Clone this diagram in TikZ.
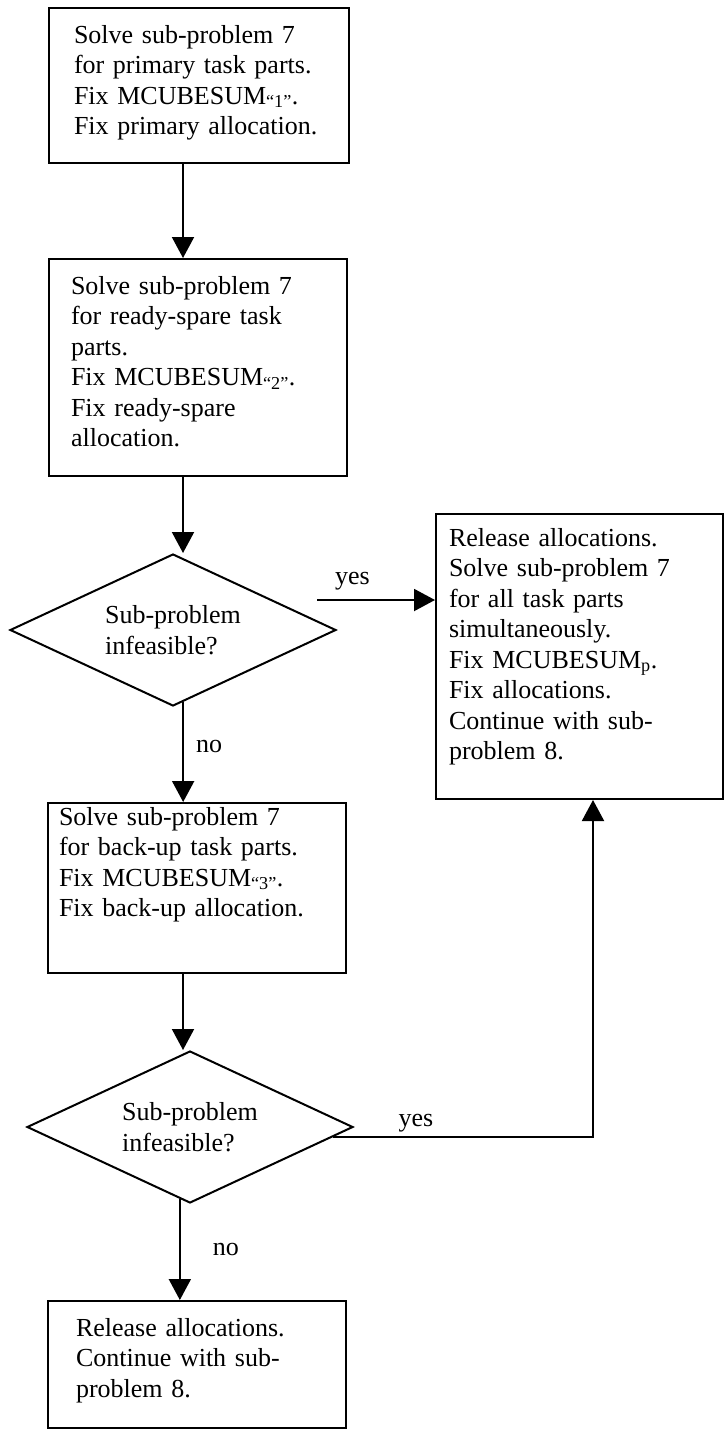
\documentclass[tikz,border=0pt]{standalone}
\usepackage{fontspec}
\setmainfont{Liberation Serif}
\usetikzlibrary{shapes.geometric,arrows.meta}
\newcommand\boxfont{\fontsize{26}{30.5}\selectfont}

\begin{document}
\begin{tikzpicture}[x=1pt,y=-1pt,
  stepbox/.style={draw, line width=2pt, anchor=north west, align=left, inner ysep=0pt, font=\boxfont},
  test/.style={diamond, draw, line width=2pt, aspect=2.14, inner sep=0pt, align=left, font=\boxfont, minimum width=326pt, minimum height=152pt},
  arr/.style={line width=2pt, -{Triangle[length=21pt,width=22pt]}},
  lbl/.style={font=\boxfont, inner sep=2pt}]

\useasboundingbox (0,0) rectangle (724,1430);

\coordinate (spine) at (183,0);
\coordinate (ret) at (593,0);
\coordinate (yes1) at (317,600);

\node[stepbox, inner xsep=25pt, text width=250pt, text height=35pt, text depth=120pt] (prim) at (48,7)
  {Solve sub-problem 7\\for primary task parts.\\Fix MCUBESUM\textsubscript{“1”}.\\Fix primary allocation.};
\node[stepbox, inner xsep=22pt, text width=254pt, text height=35pt, text depth=182pt] (spare) at (48,258)
  {Solve sub-problem 7\\for ready-spare task\\parts.\\Fix MCUBESUM\textsubscript{“2”}.\\Fix ready-spare\\allocation.};
\node[test] (inf1) at (173,630) {Sub-problem\\infeasible?};
\node[stepbox, inner xsep=13pt, text width=261pt, text height=32pt, text depth=253pt] (all) at (435,513)
  {Release allocations.\\Solve sub-problem 7\\for all task parts\\simultaneously.\\Fix MCUBESUM\textsubscript{p}.\\Fix allocations.\\Continue with sub-\\problem 8.};
\node[stepbox, inner xsep=11pt, text width=276pt, text height=22pt, text depth=148pt] (back) at (47,802)
  {Solve sub-problem 7\\for back-up task parts.\\Fix MCUBESUM\textsubscript{“3”}.\\Fix back-up allocation.};
\node[test] (inf2) at (190,1127) {Sub-problem\\infeasible?};
\node[stepbox, inner xsep=28pt, text width=242pt, text height=35pt, text depth=92pt] (fin) at (47,1300)
  {Release allocations.\\Continue with sub-\\problem 8.};

\draw[arr] (prim.south -| spine) -- (spare.north -| spine);
\draw[arr] (spare.south -| spine) -- (inf1.north -| spine);
\draw[arr] (yes1) -- (yes1 -| all.west) node[lbl, pos=.3, above=7pt] (y1) {yes};
\draw[arr] (inf1.-82) -- (back.north -| inf1.-82) node[lbl, pos=.44, right=10pt] (n1) {no};
\draw[arr] (back.south -| spine) -- (inf2.north -| spine);
\draw[arr] (inf2.-4) -| (all.south -| ret) node[lbl, pos=.16, above=2pt] (y2) {yes};
\draw[arr] (inf2.-98) -- (fin.north -| inf2.-98) node[lbl, pos=.5, right=30pt] (n2) {no};

\end{tikzpicture}
\end{document}
